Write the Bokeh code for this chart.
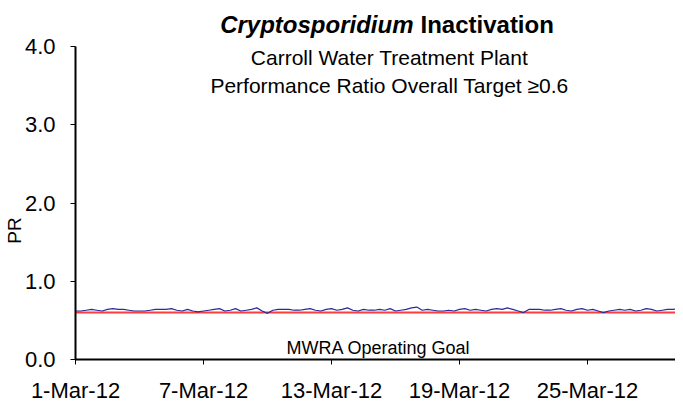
from datetime import datetime, timedelta
import pandas as pd
from bokeh.plotting import figure
from bokeh.models import Range1d, FixedTicker, PrintfTickFormatter, Label
from bokeh.embed import file_html
from bokeh.resources import INLINE

# ---- data ----
pr_values = [
    0.62, 0.62, 0.63, 0.64,  0.63, 0.62, 0.64, 0.65,  0.64, 0.64, 0.63, 0.62,
    0.62, 0.62, 0.63, 0.64,  0.64, 0.64, 0.65, 0.63,  0.62, 0.64, 0.62, 0.61,
    0.62, 0.63, 0.64, 0.65,  0.62, 0.63, 0.65, 0.62,  0.63, 0.64, 0.66, 0.62,
    0.59, 0.63, 0.64, 0.64,  0.64, 0.63, 0.63, 0.64,  0.65, 0.63, 0.62, 0.64,
    0.65, 0.63, 0.64, 0.66,  0.63, 0.62, 0.64, 0.63,  0.63, 0.64, 0.63, 0.65,
    0.62, 0.63, 0.64, 0.66,  0.67, 0.63, 0.64, 0.63,  0.62, 0.62, 0.63, 0.62,
    0.64, 0.65, 0.63, 0.64,  0.63, 0.62, 0.64, 0.65,  0.64, 0.66, 0.64, 0.62,
    0.60, 0.64, 0.64, 0.64,  0.63, 0.63, 0.64, 0.65,  0.63, 0.62, 0.64, 0.65,
    0.63, 0.64, 0.62, 0.60,  0.62, 0.63, 0.64, 0.63,  0.64, 0.62, 0.63, 0.65,
    0.64, 0.62, 0.63, 0.64,  0.64, 0.65, 0.63, 0.62,
]
goal = 0.6
tick_dates = ["2012-03-01", "2012-03-07", "2012-03-13", "2012-03-19", "2012-03-25"]
tick_labels = ["1-Mar-12", "7-Mar-12", "13-Mar-12", "19-Mar-12", "25-Mar-12"]
y_ticks = [0.0, 1.0, 2.0, 3.0, 4.0]

times = pd.date_range("2012-03-01", periods=len(pr_values), freq="6h")

FONT = "Liberation Sans"

start = datetime(2012, 3, 1)
x_start = start - timedelta(days=3.516)
x_end = start + timedelta(days=28.125)

p = figure(width=675, height=403, x_axis_type="datetime",
           output_backend="svg", toolbar_location=None,
           x_range=Range1d(x_start, x_end),
           y_range=Range1d(-0.562, 4.588),
           min_border=0, min_border_left=0, min_border_right=0,
           min_border_top=0, min_border_bottom=0)
p.outline_line_color = None
p.xgrid.visible = False
p.ygrid.visible = False
p.background_fill_color = "white"
p.border_fill_color = "white"

start_ms = pd.Timestamp(start).value // 10**6
tick_ms = [pd.Timestamp(d).value // 10**6 for d in tick_dates]
p.xaxis.ticker = FixedTicker(ticks=tick_ms)
p.xaxis.major_label_overrides = {t: l for t, l in zip(tick_ms, tick_labels)}
p.xaxis.fixed_location = 0
p.xaxis.bounds = (start, x_end)
p.yaxis.ticker = FixedTicker(ticks=y_ticks)
p.yaxis.formatter = PrintfTickFormatter(format="%.1f")
p.yaxis.fixed_location = start_ms
p.yaxis.bounds = (0, 4)

for ax in (p.xaxis, p.yaxis):
    ax.axis_line_width = 2
    ax.axis_line_color = "black"
    ax.major_tick_line_color = "black"
    ax.major_tick_out = 5
    ax.major_tick_in = 0
    ax.minor_tick_line_color = None
    ax.major_label_text_font = FONT
    ax.major_label_text_font_size = "22px"
    ax.major_label_text_color = "black"
p.xaxis.major_label_standoff = 13
p.yaxis.major_label_standoff = 15

p.line(times, [goal] * len(times), line_color="#FF3B3B", line_width=2)
p.line(times, pr_values, line_color="#2A2A9A", line_width=1.2)

# titles (screen units, frame covers whole canvas)
p.add_layout(Label(x=413, y=379, x_units="screen", y_units="screen", text="Cryptosporidium",
                   text_font=FONT, text_font_style="bold italic", text_font_size="24px",
                   text_align="right", text_baseline="alphabetic", text_color="black"))
p.add_layout(Label(x=420, y=379, x_units="screen", y_units="screen", text="Inactivation",
                   text_font=FONT, text_font_style="bold", text_font_size="24px",
                   text_align="left", text_baseline="alphabetic", text_color="black"))
p.add_layout(Label(x=389, y=346, x_units="screen", y_units="screen",
                   text="Carroll Water Treatment Plant",
                   text_font=FONT, text_font_size="21px",
                   text_align="center", text_baseline="alphabetic", text_color="black"))
p.add_layout(Label(x=389, y=318, x_units="screen", y_units="screen",
                   text="Performance Ratio Overall Target \u22650.6",
                   text_font=FONT, text_font_size="21px",
                   text_align="center", text_baseline="alphabetic", text_color="black"))
p.add_layout(Label(x=378, y=56, x_units="screen", y_units="screen",
                   text="MWRA Operating Goal",
                   text_font=FONT, text_font_size="18px",
                   text_align="center", text_baseline="alphabetic", text_color="black"))
p.add_layout(Label(x=13.5, y=173, x_units="screen", y_units="screen", text="PR",
                   angle=1.5708, text_font=FONT, text_font_size="19px",
                   text_align="center", text_baseline="middle", text_color="black"))

open("out.html", "w").write(file_html(p, INLINE))
